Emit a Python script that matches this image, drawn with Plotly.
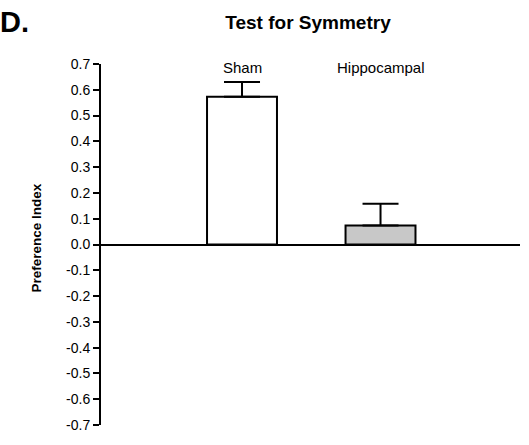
import plotly.graph_objects as go

categories = ["Sham", "Hippocampal"]
values = [0.573, 0.074]
errors = [0.057, 0.084]
bar_colors = ["white", "#c8c8c8"]
tick_vals = [0.7, 0.6, 0.5, 0.4, 0.3, 0.2, 0.1, 0.0, -0.1, -0.2, -0.3, -0.4, -0.5, -0.6, -0.7]
tick_text = ["0.7", "0.6", "0.5", "0.4", "0.3", "0.2", "0.1", "0.0", "-0.1", "-0.2", "-0.3", "-0.4", "-0.5", "-0.6", "-0.7"]

FONT = "Liberation Sans, Arial, Helvetica, sans-serif"

fig = go.Figure()
fig.add_trace(go.Bar(
    x=list(range(len(categories))),
    y=values,
    width=0.505,
    marker=dict(color=bar_colors, line=dict(color="black", width=2)),
    error_y=dict(type="data", array=errors, arrayminus=[0] * len(errors),
                 symmetric=False, color="black", thickness=2, width=18),
))

for i, c in enumerate(categories):
    fig.add_annotation(x=i, y=0.7, xref="x", yref="y", text=c, showarrow=False,
                       yanchor="middle", yshift=-3,
                       font=dict(family=FONT, size=15, color="black"))

fig.add_annotation(x=0, y=1, xref="paper", yref="paper", xanchor="left", yanchor="top",
                   xshift=-103, yshift=60, text="<b>D.</b>", showarrow=False,
                   font=dict(family=FONT, size=29, color="black"))

fig.add_annotation(x=0, y=0.5, xref="paper", yref="paper", xanchor="center", yanchor="middle",
                   xshift=-65, yshift=6, text="<b>Preference Index</b>", showarrow=False,
                   textangle=-90, font=dict(family=FONT, size=13.5, color="black"))

fig.update_layout(
    width=529, height=445,
    margin=dict(l=101, r=9, t=64, b=20),
    plot_bgcolor="white", paper_bgcolor="white",
    showlegend=False,
    title=dict(text="<b>Test for Symmetry</b>", x=308 / 529, xanchor="center",
               y=1 - 22 / 445, yanchor="middle",
               font=dict(family=FONT, size=19, color="black")),
    xaxis=dict(range=[-1.018, 2.007], showticklabels=False, showgrid=False,
               zeroline=False, showline=False, ticks=""),
    yaxis=dict(range=[-0.7, 0.7], tickvals=tick_vals, ticktext=tick_text,
               showgrid=False, zeroline=True, zerolinecolor="black", zerolinewidth=2,
               showline=True, linecolor="black", linewidth=2,
               ticks="outside", ticklen=6, tickwidth=2, tickcolor="black",
               tickfont=dict(family=FONT, size=14, color="black")),
)

fig.write_html("out.html")
